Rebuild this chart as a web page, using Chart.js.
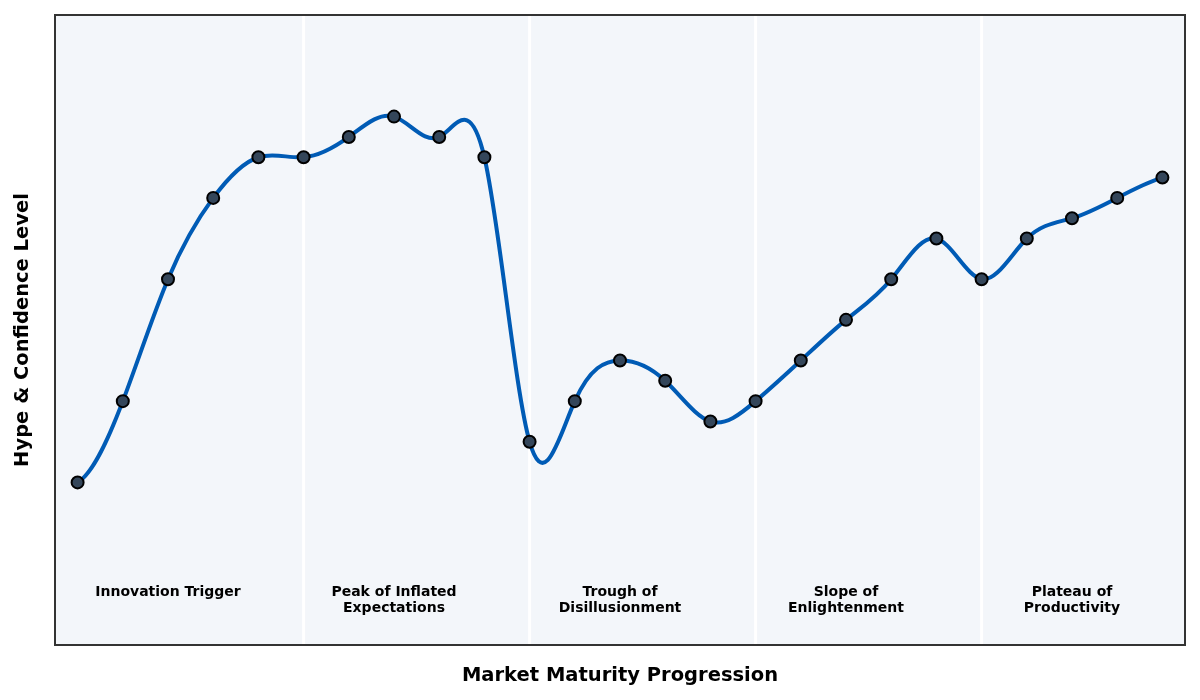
<!DOCTYPE html>
<html>
<head>
<meta charset="utf-8">
<script src="https://cdn.jsdelivr.net/npm/chart.js@4/dist/chart.umd.min.js"></script>
<style>
html,body{margin:0;padding:0;background:#fff;}
#wrap{width:1200px;height:700px;position:relative;}
</style>
</head>
<body>
<div id="wrap"><canvas id="c" width="1200" height="700"></canvas></div>
<script>
const hypeValues = [10,30,60,80,90,90,95,100,95,90,20,30,40,35,25,30,40,50,60,70,60,70,75,80,85];
const phaseBoundaries = [5,10,15,20];
const phaseLabels = [
  ["Innovation Trigger"],
  ["Peak of Inflated","Expectations"],
  ["Trough of","Disillusionment"],
  ["Slope of","Enlightenment"],
  ["Plateau of","Productivity"]
];
const phaseLabelX = [2,7,12,17,22];
const phaseLabelY = -15;
const xTitle = "Market Maturity Progression";
const yTitle = "Hype & Confidence Level";

const points = hypeValues.map((v,i)=>({x:i,y:v}));

// Solve dense linear system (small)
function solve(A,b){
  const n=b.length;
  for(let i=0;i<n;i++){
    let p=i;
    for(let r=i+1;r<n;r++) if(Math.abs(A[r][i])>Math.abs(A[p][i])) p=r;
    [A[i],A[p]]=[A[p],A[i]]; [b[i],b[p]]=[b[p],b[i]];
    for(let r=i+1;r<n;r++){
      const f=A[r][i]/A[i][i];
      for(let c=i;c<n;c++) A[r][c]-=f*A[i][c];
      b[r]-=f*b[i];
    }
  }
  const x=new Array(n).fill(0);
  for(let i=n-1;i>=0;i--){
    let s=b[i];
    for(let c=i+1;c<n;c++) s-=A[i][c]*x[c];
    x[i]=s/A[i][i];
  }
  return x;
}

// Set bezier control points of the line from a not-a-knot cubic spline through the element positions
const splinePlugin = {
  id:'spline',
  beforeDatasetsDraw(chart){
    const meta = chart.getDatasetMeta(0);
    const line = meta.dataset;
    line.updateControlPoints(chart.chartArea, 'x');
    const pts = meta.data;
    const n = pts.length - 1;
    const h = pts[1].x - pts[0].x;
    const y = pts.map(p=>p.y);
    const A = []; const b = [];
    for(let i=0;i<=n;i++){ A.push(new Array(n+1).fill(0)); b.push(0); }
    A[0][0]=1; A[0][1]=-2; A[0][2]=1;
    A[n][n-2]=1; A[n][n-1]=-2; A[n][n]=1;
    for(let i=1;i<n;i++){
      A[i][i-1]=1; A[i][i]=4; A[i][i+1]=1;
      b[i]=6*(y[i-1]-2*y[i]+y[i+1])/(h*h);
    }
    const M = solve(A,b);
    const m = [];
    for(let i=0;i<n;i++) m.push((y[i+1]-y[i])/h - h*(2*M[i]+M[i+1])/6);
    m.push((y[n]-y[n-1])/h + h*(M[n-1]+2*M[n])/6);
    pts.forEach((p,i)=>{
      const px = pts[i].x;
      p.cp1x = px - h/3; p.cp1y = p.y - m[i]*h/3;
      p.cp2x = px + h/3; p.cp2y = p.y + m[i]*h/3;
    });
    line._path = undefined;
  }
};

const decor = {
  id:'decor',
  beforeDatasetsDraw(chart){
    const {ctx, chartArea:a, scales:{x,y}} = chart;
    ctx.save();
    ctx.fillStyle = '#f3f6fa';
    ctx.fillRect(a.left,a.top,a.right-a.left,a.bottom-a.top);
    ctx.strokeStyle = '#ffffff';
    ctx.lineWidth = 3;
    phaseBoundaries.forEach(b=>{
      const px = x.getPixelForValue(b);
      ctx.beginPath(); ctx.moveTo(px,a.top); ctx.lineTo(px,a.bottom); ctx.stroke();
    });
    ctx.fillStyle = '#000';
    ctx.font = 'bold 14px "DejaVu Sans"';
    ctx.textAlign = 'center';
    ctx.textBaseline = 'top';
    phaseLabels.forEach((lines,i)=>{
      const px = x.getPixelForValue(phaseLabelX[i]);
      const py = y.getPixelForValue(phaseLabelY) + 1;
      lines.forEach((t,j)=>ctx.fillText(t,px,py+j*16));
    });
    ctx.restore();
  },
  afterDraw(chart){
    const {ctx, chartArea:a} = chart;
    ctx.save();
    ctx.strokeStyle = '#333333';
    ctx.lineWidth = 2;
    ctx.strokeRect(a.left,a.top,a.right-a.left,a.bottom-a.top);
    ctx.fillStyle = '#000';
    ctx.font = 'bold 19.5px "DejaVu Sans"';
    ctx.textAlign = 'center';
    ctx.textBaseline = 'middle';
    ctx.fillText(xTitle,(a.left+a.right)/2,676);
    ctx.translate(23,(a.top+a.bottom)/2);
    ctx.rotate(-Math.PI/2);
    ctx.fillText(yTitle,0,0);
    ctx.restore();
  }
};

new Chart(document.getElementById('c'),{
  type:'line',
  data:{datasets:[{
    data:points,
    borderColor:'#005bb5',
    borderWidth:4,
    tension:0.4,
    pointRadius:6,
    pointBackgroundColor:'#34465a',
    pointBorderColor:'#000000',
    pointBorderWidth:2,
    fill:false
  }]},
  options:{
    responsive:false,
    animation:false,
    devicePixelRatio:1,
    layout:{padding:{left:55,right:15,top:15,bottom:55}},
    plugins:{legend:{display:false},tooltip:{enabled:false}},
    scales:{
      x:{type:'linear',min:-0.5,max:24.5,display:false},
      y:{min:-30,max:125,display:false}
    }
  },
  plugins:[decor,splinePlugin]
});
</script>
</body>
</html>
